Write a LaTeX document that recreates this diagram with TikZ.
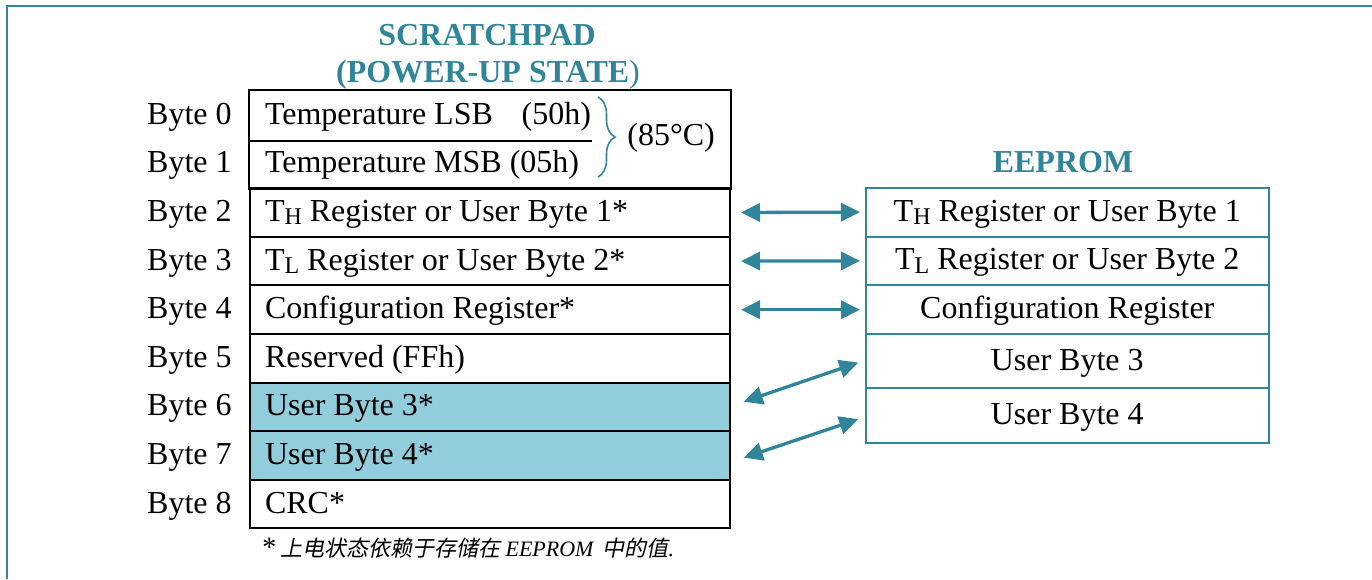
\documentclass[tikz,border=0pt]{standalone}
\usepackage{fontspec}
\setmainfont{Liberation Serif}
\newfontfamily\cjk{Noto Sans CJK SC}[FakeSlant=0.2]
\usetikzlibrary{arrows.meta,decorations.pathreplacing,calc}
\definecolor{tealA}{RGB}{49,133,155}
\definecolor{aquaA}{RGB}{146,205,220}
\newcommand{\mysub}[1]{\raisebox{-1.6pt}{\fontsize{12pt}{12pt}\selectfont #1}}
\newcommand{\lft}[1]{\makebox[225pt][l]{#1}}
\tikzset{
  base/.style={font=\fontsize{16pt}{18pt}\selectfont, inner sep=0pt},
  srow/.style={base, draw=black, line width=1pt, anchor=north west,
    minimum width=240pt, inner xsep=7.5pt,
    minimum height=24.3pt, text height=12pt, text depth=3pt},
  blabel/.style={base, anchor=east, text height=12pt, text depth=3pt},
  erow/.style={base, draw=tealA, line width=0.9pt, anchor=north west,
    minimum width=201.35pt, text height=12pt, text depth=3pt},
  ttl/.style={inner sep=0pt, text=tealA, anchor=base,
    font=\fontsize{16pt}{18pt}\selectfont\bfseries},
  arr/.style={tealA, line width=1.65pt,
    {Triangle[length=9.5pt,width=9pt]}-{Triangle[length=9.5pt,width=9pt]}},
}
\begin{document}
\begin{tikzpicture}[x=0.5pt,y=-0.5pt]
\useasboundingbox (0,0) rectangle (1372,579);
% outer frame
\draw[tealA, line width=1pt] (7,579) -- (7,5.5) -- (1372,5.5);

% titles
\node[ttl] (t1) at (487,45.5) {SCRATCHPAD};
\node[ttl] (t2) at (488,82) {(POWER-UP STATE{\mdseries)}};
\node[ttl] (t3) at (1063,172.7) {EEPROM};

% scratchpad rows
\node[srow, draw=none] (r0) at (249,90)    {\lft{\makebox[163pt][l]{Temperature LSB\hfill(50h)}}};
\node[srow, draw=none] (r1) at (249,138.6) {\lft{Temperature MSB (05h)}};
\draw[line width=1pt] (r0.north west) rectangle (r1.south east);
\draw[line width=1pt] (r0.south west) -- ++(343,0);
\node[srow] (r2) at (249,187.2) {\lft{T\mysub{H} Register or User Byte 1*}};
\node[srow] (r3) at (249,235.8) {\lft{T\mysub{L} Register or User Byte 2*}};
\node[srow] (r4) at (249,284.4) {\lft{Configuration Register*}};
\node[srow] (r5) at (249,333)   {\lft{Reserved (FFh)}};
\node[srow, fill=aquaA] (r6) at (249,381.6) {\lft{User Byte 3*}};
\node[srow, fill=aquaA] (r7) at (249,430.2) {\lft{User Byte 4*}};
\node[srow] (r8) at (249,478.8) {\lft{CRC*}};

% byte labels
\foreach \i in {0,...,8}{
  \node[blabel] (b\i) at ([xshift=-8.5pt]r\i.west) {Byte \i};
}

% brace and temperature
\coordinate (bt) at (598,97);
\coordinate (bb) at (598,177);
\draw[tealA, line width=0.8pt, decorate, decoration={brace, amplitude=8.5pt}] (bt) -- (bb);
\node[base, anchor=base west] (deg) at (627,145) {(85\textdegree C)};

% EEPROM rows
\node[erow, minimum height=24.5pt] (e1) at (865,186.7) {T\mysub{H} Register or User Byte 1};
\node[erow, minimum height=24.3pt] (e2) at (865,235.7) {T\mysub{L} Register or User Byte 2};
\node[erow, minimum height=24.5pt] (e3) at (865,284.3) {Configuration Register};
\node[erow, minimum height=27pt]   (e4) at (865,333.3) {User Byte 3};
\node[erow, minimum height=27.5pt] (e5) at (865,387.3) {User Byte 4};

% arrows
\draw[arr, shorten <=5pt, shorten >=2.5pt] (r2.east) -- (e1.west);
\draw[arr, shorten <=5pt, shorten >=2.5pt] (r3.east) -- (e2.west);
\draw[arr, shorten <=5pt, shorten >=2.5pt] (r4.east) -- (e3.west);
\draw[arr] ([xshift=6.35pt,yshift=2.6pt]r6.east) -- ([xshift=-3.35pt,yshift=-0.7pt]e4.west);
\draw[arr] ([xshift=6.35pt,yshift=-1.1pt]r7.east) -- ([xshift=-3.35pt,yshift=-1.75pt]e5.west);

% footnote
\node[inner sep=0pt, anchor=base west, font=\fontsize{11pt}{12pt}\selectfont] (fn) at (262,556)
  {{\fontsize{14pt}{14pt}\selectfont *}\,{\cjk 上电状态依赖于存储在} \textit{EEPROM}\hspace{4pt}{\cjk 中的值}\textit{.}};
\end{tikzpicture}
\end{document}
